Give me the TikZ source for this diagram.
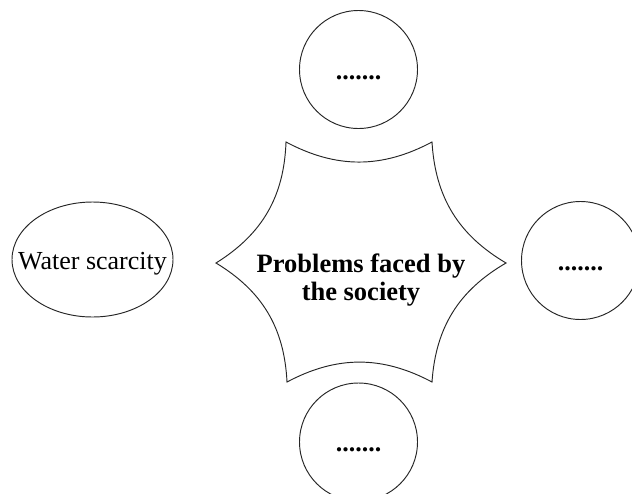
\documentclass[tikz,border=0pt]{standalone}
\usepackage{fontspec}
\setmainfont{Liberation Serif}
\usetikzlibrary{shapes.geometric}
\begin{document}
\begin{tikzpicture}[x=1pt,y=-1pt,
  outline/.style={draw=black!85, line width=0.95pt},
  bubble/.style={outline, circle, minimum size=118pt, inner sep=0pt,
    label={[yshift=-8pt, font=\fontsize{26}{30}\selectfont\bfseries]center:.......}}]
\useasboundingbox (0,0) rectangle (632,493);
\clip (0,0) rectangle (632,493);

% central star with concave edges
\node[font=\fontsize{26.5}{28}\selectfont\bfseries, align=center] (core) at (361,280)
  {Problems faced by\\the society};
\coordinate (sA) at (286,142);
\coordinate (sB) at (432,142);
\coordinate (sC) at (506,263);
\coordinate (sD) at (432,382);
\coordinate (sE) at (287,382);
\coordinate (sF) at (216,263);
\draw[outline, line join=miter]
  (sA) to[bend right=28] (sB) to[bend right=28] (sC) to[bend right=28] (sD)
  to[bend right=28] (sE) to[bend right=28] (sF) to[bend right=28] (sA) -- cycle;

% surrounding bubbles
\node[outline, ellipse, minimum width=161pt, minimum height=115pt, inner sep=0pt,
  label={[yshift=-4pt, font=\fontsize{26}{30}\selectfont]center:Water scarcity}]
  (water) at (92.5,259.5) {};
\node[bubble] (top) at (358.5,69.5) {};
\node[bubble] (right) at (580.5,260.5) {};
\node[bubble] (bottom) at (358.5,442) {};
\end{tikzpicture}
\end{document}
